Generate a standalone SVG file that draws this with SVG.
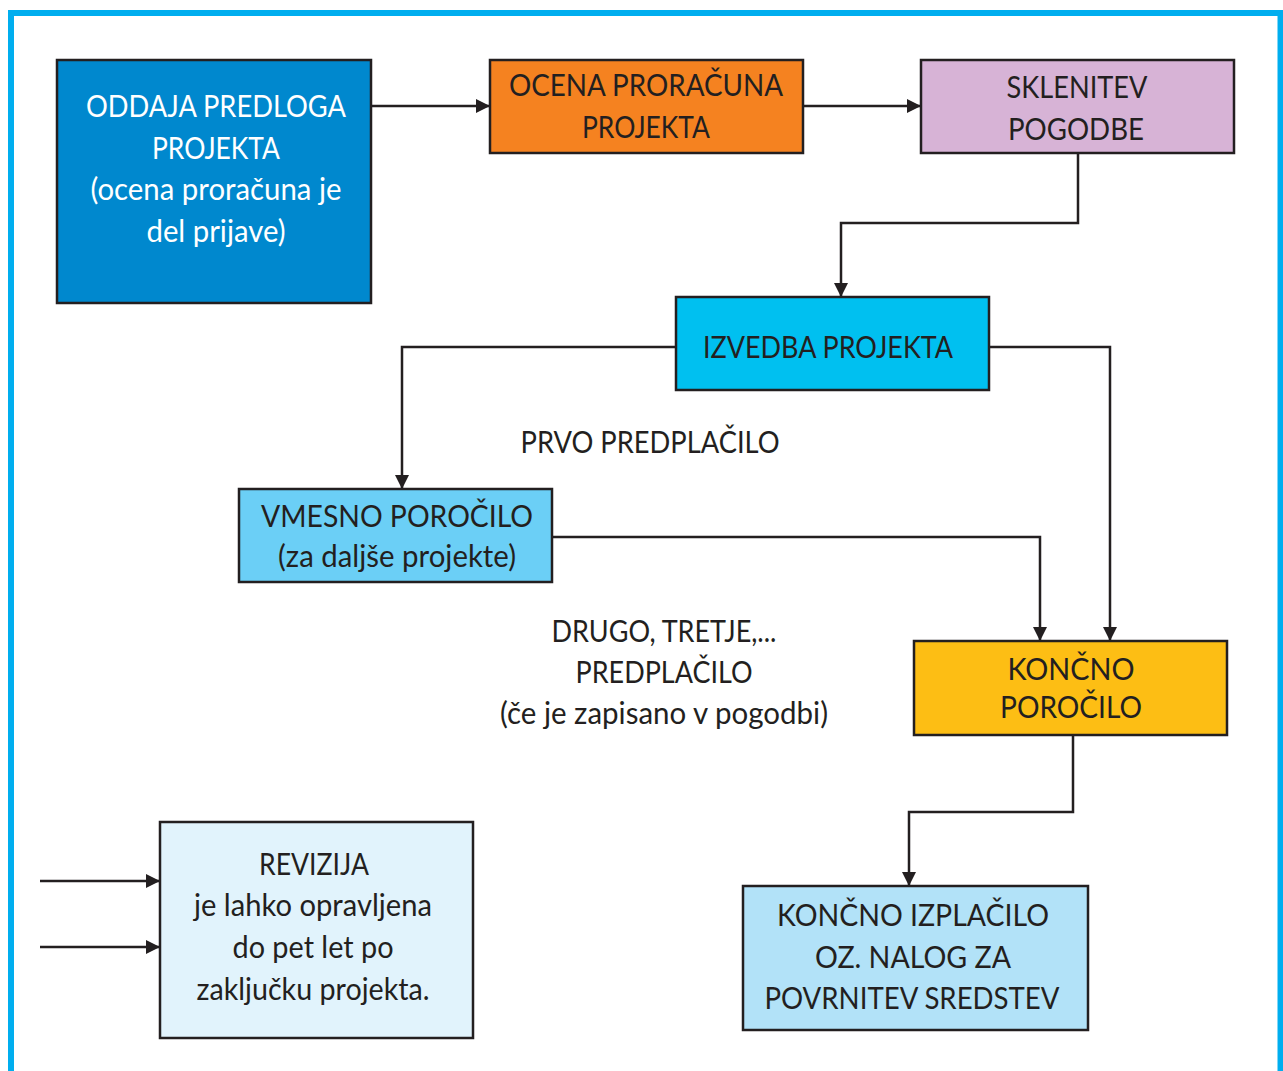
<svg xmlns="http://www.w3.org/2000/svg" width="1283" height="1071" viewBox="0 0 1283 1071">
<defs>
<style>
.node{stroke:#231F20;stroke-width:2.5}
.t{font-family:Lato,"Open Sans","Liberation Sans",sans-serif;font-size:30px;fill:#231F20;text-anchor:middle}
.w{fill:#FFFFFF}
.c{fill:none;stroke:#231F20;stroke-width:2.5}
</style>
<marker id="ah" markerUnits="userSpaceOnUse" markerWidth="14" markerHeight="14" viewBox="0 0 14 14" refX="13" refY="7" orient="auto">
<path d="M0,0 L14,7 L0,14 Z" fill="#231F20"/>
</marker>
</defs>
<rect width="1283" height="1071" fill="#FFFFFF"/>
<rect x="11" y="13" width="1269.5" height="1090" fill="none" stroke="#00AEEF" stroke-width="6"/>

<g id="connectors">
<path class="c" d="M371,106 H489" marker-end="url(#ah)"/>
<path class="c" d="M803,106 H920" marker-end="url(#ah)"/>
<path class="c" d="M1078,153 V223 H841 V296" marker-end="url(#ah)"/>
<path class="c" d="M676,347 H402 V488" marker-end="url(#ah)"/>
<path class="c" d="M989,347 H1110 V640" marker-end="url(#ah)"/>
<path class="c" d="M552,537 H1040 V640" marker-end="url(#ah)"/>
<path class="c" d="M1073,735 V812 H909 V885" marker-end="url(#ah)"/>
<path class="c" d="M40,881 H159" marker-end="url(#ah)"/>
<path class="c" d="M40,947 H159" marker-end="url(#ah)"/>
</g>

<g id="oddaja">
<rect class="node" x="57" y="60" width="314" height="243" fill="#0088CE"/>
<text class="t w" x="216" y="117" textLength="260" lengthAdjust="spacingAndGlyphs">ODDAJA PREDLOGA</text>
<text class="t w" x="216" y="159" textLength="128" lengthAdjust="spacingAndGlyphs">PROJEKTA</text>
<text class="t w" x="216" y="200" textLength="251" lengthAdjust="spacingAndGlyphs">(ocena proračuna je</text>
<text class="t w" x="216" y="242" textLength="139" lengthAdjust="spacingAndGlyphs">del prijave)</text>
</g>

<g id="ocena">
<rect class="node" x="490" y="60" width="313" height="93" fill="#F58220"/>
<text class="t" x="646" y="96" textLength="274" lengthAdjust="spacingAndGlyphs">OCENA PRORAČUNA</text>
<text class="t" x="646" y="138" textLength="128" lengthAdjust="spacingAndGlyphs">PROJEKTA</text>
</g>

<g id="sklenitev">
<rect class="node" x="921" y="60" width="313" height="93" fill="#D7B3D6"/>
<text class="t" x="1077" y="98" textLength="141" lengthAdjust="spacingAndGlyphs">SKLENITEV</text>
<text class="t" x="1076" y="140" textLength="136" lengthAdjust="spacingAndGlyphs">POGODBE</text>
</g>

<g id="izvedba">
<rect class="node" x="676" y="297" width="313" height="93" fill="#00C0F0"/>
<text class="t" x="828" y="358" textLength="250" lengthAdjust="spacingAndGlyphs">IZVEDBA PROJEKTA</text>
</g>

<g id="prvo">
<text class="t" x="650" y="453" textLength="259" lengthAdjust="spacingAndGlyphs">PRVO PREDPLAČILO</text>
</g>

<g id="vmesno">
<rect class="node" x="239" y="489" width="313" height="93" fill="#6BCFF6"/>
<text class="t" x="397" y="527" textLength="272" lengthAdjust="spacingAndGlyphs">VMESNO POROČILO</text>
<text class="t" x="397" y="567" textLength="238" lengthAdjust="spacingAndGlyphs">(za daljše projekte)</text>
</g>

<g id="drugo">
<text class="t" x="664" y="642" textLength="225" lengthAdjust="spacingAndGlyphs">DRUGO, TRETJE,...</text>
<text class="t" x="664" y="683" textLength="177" lengthAdjust="spacingAndGlyphs">PREDPLAČILO</text>
<text class="t" x="664" y="724" textLength="328" lengthAdjust="spacingAndGlyphs">(če je zapisano v pogodbi)</text>
</g>

<g id="koncno">
<rect class="node" x="914" y="641" width="313" height="94" fill="#FDBE14"/>
<text class="t" x="1071" y="680" textLength="127" lengthAdjust="spacingAndGlyphs">KONČNO</text>
<text class="t" x="1071" y="718" textLength="142" lengthAdjust="spacingAndGlyphs">POROČILO</text>
</g>

<g id="izplacilo">
<rect class="node" x="743" y="886" width="345" height="144" fill="#B2E2F8"/>
<text class="t" x="913" y="926" textLength="272" lengthAdjust="spacingAndGlyphs">KONČNO IZPLAČILO</text>
<text class="t" x="913" y="968" textLength="196" lengthAdjust="spacingAndGlyphs">OZ. NALOG ZA</text>
<text class="t" x="912" y="1009" textLength="295" lengthAdjust="spacingAndGlyphs">POVRNITEV SREDSTEV</text>
</g>

<g id="revizija">
<rect class="node" x="160" y="822" width="313" height="216" fill="#E1F3FC"/>
<text class="t" x="314" y="875" textLength="110" lengthAdjust="spacingAndGlyphs">REVIZIJA</text>
<text class="t" x="313" y="916" textLength="238" lengthAdjust="spacingAndGlyphs">je lahko opravljena</text>
<text class="t" x="313" y="958" textLength="161" lengthAdjust="spacingAndGlyphs">do pet let po</text>
<text class="t" x="313" y="1000" textLength="233" lengthAdjust="spacingAndGlyphs">zaključku projekta.</text>
</g>
</svg>
